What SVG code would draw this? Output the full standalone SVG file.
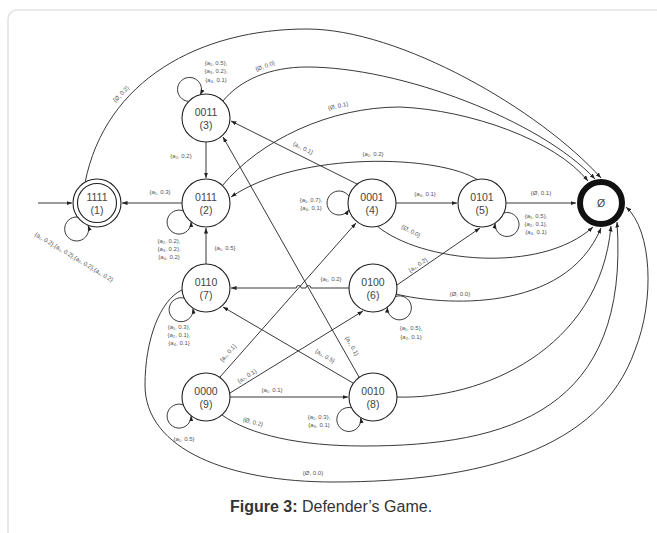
<svg xmlns="http://www.w3.org/2000/svg" width="657" height="533" viewBox="0 0 657 533">
<defs>
<style>
.e{fill:none;stroke:#222;stroke-width:0.9;marker-end:url(#ah)}
.n{fill:#fff;stroke:#222;stroke-width:1.1}
.t{font-family:"Liberation Sans","DejaVu Sans",sans-serif;font-size:10.5px;fill:#444;text-anchor:middle}
.l{font-family:"Liberation Sans","DejaVu Sans",sans-serif;font-size:6px;fill:#555;text-anchor:middle}
.cap{font-family:"Liberation Sans",Arial,sans-serif;font-size:16px;fill:#333;text-anchor:middle}
</style>
<marker id="ah" viewBox="0 0 8 6" refX="8" refY="3" markerWidth="5.5" markerHeight="4.2" markerUnits="userSpaceOnUse" orient="auto"><path d="M0,0 L8,3 L0,6 z" fill="#222"/></marker>
</defs>
<rect x="0" y="0" width="657" height="533" fill="#fff"/>
<rect x="8" y="10" width="700" height="600" rx="9" fill="none" stroke="#e2e2e2" stroke-width="1.5"/>

<g id="connectors">
<path class="e" d="M38,203 L72,203"/>
<path class="e" d="M206,142 L206,178"/>
<path class="e" d="M182,203 L122,203"/>
<path class="e" d="M206,264 L206,228"/>
<path class="e" d="M349,288 L310.9,288 A2.5,2.5 0 0 0 305.9,288 L301.2,288 A2.5,2.5 0 0 0 296.2,288 L231,288"/>
<path class="e" d="M396,203 L457,203"/>
<path class="e" d="M506,203 L576,203"/>
<path class="e" d="M230,397 L348,397"/>
<path class="e" d="M357,184 L231,121"/>
<path class="e" d="M359,377 L223,137"/>
<path class="e" d="M220,377 L356,223"/>
<path class="e" d="M230,393 L363,311"/>
<path class="e" d="M353,383 L223,307"/>
<path class="e" d="M397,285 L480,228"/>
<path class="e" d="M478,180 C440,155 300,150 231,197"/>
<path class="e" d="M85,183 C105,80 200,29 307,29 C400,29 540,110 601,178"/>
<path class="e" d="M223,101 C240,80 270,67 307,67 C400,67 540,120 595,179"/>
<path class="e" d="M222,186 C260,140 330,107 400,107 C470,110 555,140 588,181"/>
<path class="e" d="M377,226 C420,262 540,275 593,227"/>
<path class="e" d="M396,294 C440,305 565,315 601,228"/>
<path class="e" d="M397,397 C480,400 600,350 611,226"/>
<path class="e" d="M222,415 C250,435 300,446 363,446 C510,446 630,410 617,222"/>
<path class="e" d="M182,290 C160,300 145,340 145,385 C145,450 230,482 333,482 C480,482 600,450 635,350 C655,300 652,230 626,207"/>
<path class="e" d="M77.5,217 A12,12 0 1,0 88.1,225.3"/>
<path class="e" d="M188.7,101.4 A12,12 0 1,1 200.3,94.7"/>
<path class="e" d="M183.4,210.9 A12,12 0 1,0 191.1,221.8"/>
<path class="e" d="M184.2,298.1 A12,12 0 1,0 193,308.2"/>
<path class="e" d="M349,196.3 A12,12 0 1,0 349,209.7"/>
<path class="e" d="M503.9,212.9 A12,12 0 1,1 495.1,223.1"/>
<path class="e" d="M395.5,296.5 A12,12 0 1,1 387.4,307.2"/>
<path class="e" d="M183.4,404.9 A12,12 0 1,0 191.1,415.8"/>
<path class="e" d="M351.6,407.8 A12,12 0 1,0 360.7,417.6"/>
</g>

<g id="labels">
<text class="l" x="181" y="158">{a₂, 0.2}</text>
<text class="l" x="160" y="194">{a₁, 0.3}</text>
<text class="l" x="225" y="250">{a₁, 0.5}</text>
<text class="l" x="331" y="281">{a₁, 0.2}</text>
<text class="l" x="425" y="196">{a₃, 0.1}</text>
<text class="l" x="541" y="195">{Ø, 0.1}</text>
<text class="l" x="272" y="392">{a₁, 0.1}</text>
<text class="l" x="373" y="156">{a₁, 0.2}</text>
<text class="l" x="460" y="296">{Ø, 0.0}</text>
<text class="l" x="313" y="475">{Ø, 0.0}</text>
<text class="l" transform="translate(121,94) rotate(-45)" y="2">{Ø, 0.2}</text>
<text class="l" transform="translate(265,66) rotate(-20)" y="2">{Ø, 0.0}</text>
<text class="l" transform="translate(338,106) rotate(-13)" y="2">{Ø, 0.1}</text>
<text class="l" transform="translate(411,231) rotate(28)" y="2">{Ø, 0.0}</text>
<text class="l" transform="translate(253,422) rotate(15)" y="2">{Ø, 0.2}</text>
<text class="l" transform="translate(303,148) rotate(26.4)" y="2">{a₂, 0.1}</text>
<text class="l" transform="translate(352,346) rotate(60.4)" y="2">{a₄, 0.1}</text>
<text class="l" transform="translate(228,353) rotate(-48.5)" y="2">{a₄, 0.1}</text>
<text class="l" transform="translate(247,376) rotate(-31.8)" y="2">{a₂, 0.1}</text>
<text class="l" transform="translate(325,356) rotate(30.4)" y="2">{a₃, 0.5}</text>
<text class="l" transform="translate(418,265) rotate(-34.6)" y="2">{a₄, 0.2}</text>
<text class="l" transform="translate(74,257) rotate(31)" y="2">{a₁, 0.2},{a₂, 0.2},{a₃, 0.2},{a₄, 0.2}</text>
<text class="l"><tspan x="216" y="65">{a₁, 0.5},</tspan><tspan x="216" y="73">{a₃, 0.2},</tspan><tspan x="216" y="82">{a₄, 0.1}</tspan></text>
<text class="l"><tspan x="169" y="243">{a₂, 0.2},</tspan><tspan x="169" y="251">{a₃, 0.2},</tspan><tspan x="169" y="259">{a₄, 0.2}</tspan></text>
<text class="l"><tspan x="179" y="329">{a₁, 0.3},</tspan><tspan x="179" y="337">{a₂, 0.1},</tspan><tspan x="179" y="345">{a₄, 0.1}</tspan></text>
<text class="l"><tspan x="311" y="202">{a₁, 0.7},</tspan><tspan x="311" y="210">{a₄, 0.1}</tspan></text>
<text class="l"><tspan x="536" y="218">{a₁, 0.5},</tspan><tspan x="536" y="226">{a₂, 0.1},</tspan><tspan x="536" y="234">{a₄, 0.1}</tspan></text>
<text class="l"><tspan x="411" y="330">{a₁, 0.5},</tspan><tspan x="411" y="339">{a₂, 0.1}</tspan></text>
<text class="l" x="184" y="441">{a₁, 0.5}</text>
<text class="l"><tspan x="319" y="419">{a₁, 0.3},</tspan><tspan x="319" y="427">{a₃, 0.1}</tspan></text>
</g>

<g id="n1"><circle class="n" cx="97" cy="203" r="24"/><circle class="n" cx="97" cy="203" r="19.5"/><text class="t" x="97" y="200.5">1111</text><text class="t" x="97" y="213.5">(1)</text></g>
<g id="n2"><circle class="n" cx="206" cy="203" r="24"/><text class="t" x="206" y="200.5">0111</text><text class="t" x="206" y="213.5">(2)</text></g>
<g id="n3"><circle class="n" cx="206" cy="118" r="24"/><text class="t" x="206" y="115.5">0011</text><text class="t" x="206" y="128.5">(3)</text></g>
<g id="n4"><circle class="n" cx="372" cy="203" r="24"/><text class="t" x="372" y="200.5">0001</text><text class="t" x="372" y="213.5">(4)</text></g>
<g id="n5"><circle class="n" cx="482" cy="203" r="24"/><text class="t" x="482" y="200.5">0101</text><text class="t" x="482" y="213.5">(5)</text></g>
<g id="n6"><circle class="n" cx="373" cy="288" r="24"/><text class="t" x="373" y="285.5">0100</text><text class="t" x="373" y="298.5">(6)</text></g>
<g id="n7"><circle class="n" cx="206" cy="288" r="24"/><text class="t" x="206" y="285.5">0110</text><text class="t" x="206" y="298.5">(7)</text></g>
<g id="n8"><circle class="n" cx="373" cy="397" r="24"/><text class="t" x="373" y="394.5">0010</text><text class="t" x="373" y="407.5">(8)</text></g>
<g id="n9"><circle class="n" cx="206" cy="397" r="24"/><text class="t" x="206" y="394.5">0000</text><text class="t" x="206" y="407.5">(9)</text></g>
<g id="n0"><circle cx="601" cy="203" r="21" fill="#fff" stroke="#111" stroke-width="6"/><text class="t" x="601" y="206.5">Ø</text></g>

<text class="cap" x="331" y="512"><tspan font-weight="bold">Figure 3:</tspan> Defender’s Game.</text>
</svg>
